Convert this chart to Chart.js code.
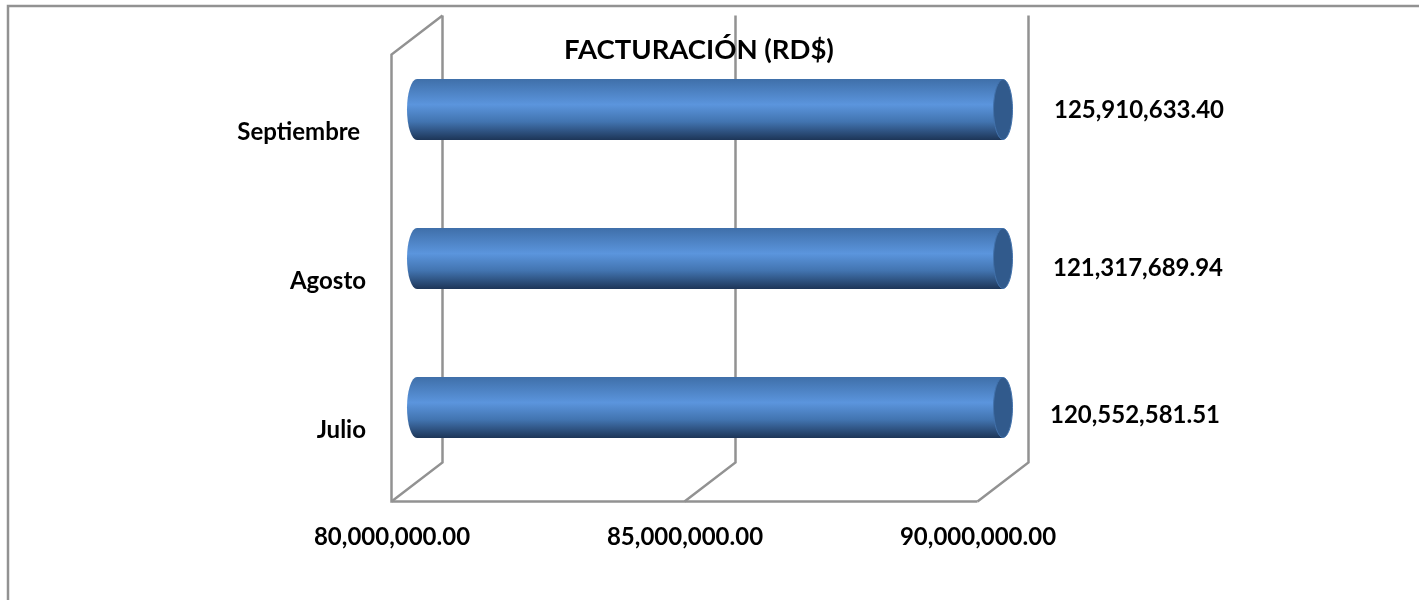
<!DOCTYPE html>
<html>
<head>
<meta charset="utf-8">
<title>Facturación</title>
<script src="https://cdn.jsdelivr.net/npm/chart.js@4/dist/chart.umd.min.js"></script>
<style>
    html, body { margin: 0; padding: 0; background: #fff; overflow: hidden; }
    canvas { display: block; }
</style>
</head>
<body>
<canvas id="chart" width="1419" height="600"></canvas>
<script>
const chartTitle = 'FACTURACIÓN (RD$)';
const months = ['Julio', 'Agosto', 'Septiembre '];
const billing = [120552581.51, 121317689.94, 125910633.40];
const axisTicks = [80000000, 85000000, 90000000];

// labels in the original are hand placed next to the bars
const labelShiftX = [132, 135, 136];
const labelShiftY = [8, 10, 1];

const fontFamily = 'Lato, sans-serif';
const wallColor = '#929292';
const depthX = 25.5;
const depthY = 19.5;
const capRadius = 10;

function money(v) {
    return v.toLocaleString('en-US', { minimumFractionDigits: 2, maximumFractionDigits: 2 });
}

function cylinderFill(ctx, top, height) {
    const g = ctx.createLinearGradient(0, top, 0, top + height);
    g.addColorStop(0, '#3f6fa9');
    g.addColorStop(0.42, '#5b95dd');
    g.addColorStop(0.7, '#4274b0');
    g.addColorStop(1, '#1d3557');
    return g;
}

const cylinderPlugin = {
    id: 'cylinder',
    beforeDraw(chart) {
        // outer chart frame, runs off the right and bottom edge
        const ctx = chart.ctx;
        ctx.save();
        ctx.strokeStyle = wallColor;
        ctx.lineWidth = 2.5;
        ctx.beginPath();
        ctx.moveTo(8, 600);
        ctx.lineTo(8, 6);
        ctx.lineTo(1419, 6);
        ctx.stroke();
        ctx.restore();
    },
    beforeDatasetsDraw(chart) {
        const ctx = chart.ctx;
        const x = chart.scales.x;
        const area = chart.chartArea;
        const backTop = area.top - depthY;
        const backBottom = area.bottom - depthY;
        const frontBottom = area.bottom + depthY;
        ctx.save();
        ctx.strokeStyle = wallColor;
        ctx.lineWidth = 2.5;
        ctx.lineJoin = 'miter';
        axisTicks.forEach(function (t) {
            const px = x.getPixelForValue(t);
            ctx.beginPath();
            ctx.moveTo(px + depthX, backTop);
            ctx.lineTo(px + depthX, backBottom);
            ctx.lineTo(px - depthX, frontBottom);
            ctx.stroke();
        });
        // side wall and floor edge
        ctx.beginPath();
        ctx.moveTo(area.left + depthX, backTop);
        ctx.lineTo(area.left - depthX, area.top + depthY);
        ctx.lineTo(area.left - depthX, frontBottom);
        ctx.lineTo(area.right - depthX, frontBottom);
        ctx.stroke();
        ctx.restore();
    },
    afterDatasetsDraw(chart) {
        const ctx = chart.ctx;
        const meta = chart.getDatasetMeta(0);
        const area = chart.chartArea;
        ctx.save();
        meta.data.forEach(function (bar, i) {
            const h = bar.height;
            const top = bar.y - h / 2;
            ctx.fillStyle = cylinderFill(ctx, top, h);
            ctx.beginPath();
            ctx.ellipse(area.left, bar.y, capRadius, h / 2, 0, 0, Math.PI * 2);
            ctx.fill();

            ctx.fillStyle = '#315a8c';
            ctx.strokeStyle = '#4272ac';
            ctx.lineWidth = 1;
            ctx.beginPath();
            ctx.ellipse(area.right, bar.y, capRadius - 0.5, h / 2 - 0.5, 0, 0, Math.PI * 2);
            ctx.fill();
            ctx.stroke();

            ctx.fillStyle = '#000';
            ctx.font = 'bold 24px ' + fontFamily;
            ctx.textAlign = 'center';
            ctx.textBaseline = 'middle';
            ctx.fillText(money(billing[i]), area.right + labelShiftX[i], bar.y + labelShiftY[i]);
        });
        ctx.restore();
    },
    afterDraw(chart) {
        const ctx = chart.ctx;
        ctx.save();
        ctx.fillStyle = '#000';
        ctx.font = 'bold 27.5px ' + fontFamily;
        ctx.textAlign = 'center';
        ctx.textBaseline = 'middle';
        ctx.fillText(chartTitle, 699, 50);
        ctx.restore();
    }
};

new Chart(document.getElementById('chart').getContext('2d'), {
    type: 'bar',
    plugins: [cylinderPlugin],
    data: {
        labels: months,
        datasets: [{
            data: billing,
            categoryPercentage: 1,
            barPercentage: 0.41,
            borderWidth: 0,
            backgroundColor: function (c) {
                const chart = c.chart;
                if (!chart.chartArea || c.dataIndex === undefined) return '#5b95dd';
                const h = chart.scales.y.height / months.length * 0.41;
                const y = chart.scales.y.getPixelForValue(c.dataIndex);
                return cylinderFill(chart.ctx, y - h / 2, h);
            }
        }]
    },
    options: {
        indexAxis: 'y',
        responsive: false,
        animation: false,
        layout: { padding: { left: 0, right: 416, top: 35, bottom: 0 } },
        plugins: {
            legend: { display: false },
            tooltip: { enabled: false }
        },
        scales: {
            x: {
                min: axisTicks[0],
                max: axisTicks[axisTicks.length - 1],
                afterFit: function (s) {
                    s.height = 118;
                    s.paddingLeft = 0;
                    s.paddingRight = 0;
                },
                grid: { display: false },
                border: { display: false },
                ticks: {
                    stepSize: 5000000,
                    autoSkip: false,
                    maxRotation: 0,
                    padding: 33,
                    labelOffset: -25,
                    color: '#000',
                    font: { family: fontFamily, size: 24, weight: 'bold' },
                    callback: function (v) { return money(v); }
                }
            },
            y: {
                reverse: true,
                afterFit: function (s) {
                    s.width = 417;
                    s.paddingTop = 0;
                    s.paddingBottom = 0;
                },
                grid: { display: false },
                border: { display: false },
                ticks: {
                    autoSkip: false,
                    padding: 43,
                    labelOffset: 23,
                    color: '#000',
                    font: { family: fontFamily, size: 24, weight: 'bold' }
                }
            }
        }
    }
});
</script>
</body>
</html>
